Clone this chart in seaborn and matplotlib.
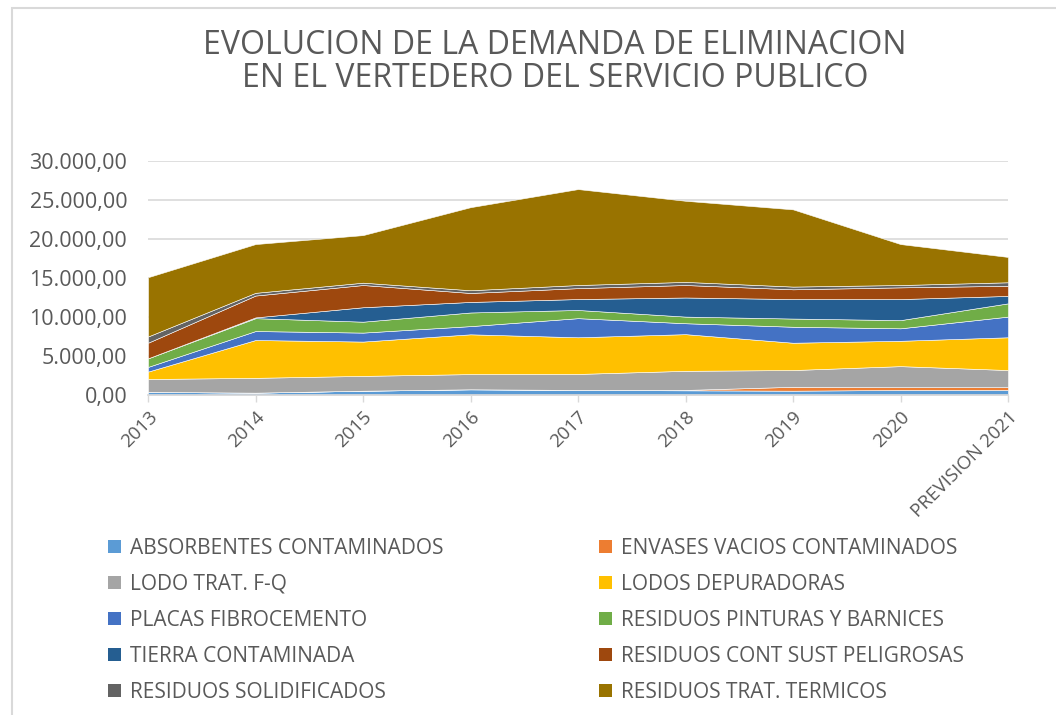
import matplotlib.pyplot as plt
import matplotlib.ticker as mticker
from matplotlib.patches import Patch, Rectangle
import seaborn as sns

# Data (tonnes per year)
years = ['2013', '2014', '2015', '2016', '2017', '2018', '2019', '2020', 'PREVISION 2021']
series = [
    'ABSORBENTES CONTAMINADOS', 'ENVASES VACIOS CONTAMINADOS', 'LODO TRAT. F-Q',
    'LODOS DEPURADORAS', 'PLACAS FIBROCEMENTO', 'RESIDUOS PINTURAS Y BARNICES',
    'TIERRA CONTAMINADA', 'RESIDUOS CONT SUST PELIGROSAS', 'RESIDUOS SOLIDIFICADOS',
    'RESIDUOS TRAT. TERMICOS',
]
absorbentes = [400, 300, 550, 730, 650, 600, 550, 650, 650]
envases = [0, 0, 0, 0, 0, 50, 500, 350, 350]
lodo_fq = [1650, 1900, 1900, 1950, 2050, 2450, 2150, 2700, 2200]
lodos_dep = [950, 4850, 4400, 5100, 4700, 4700, 3500, 3250, 4200]
placas = [600, 1150, 1150, 1050, 2450, 1400, 2050, 1600, 2650]
pinturas = [1100, 1650, 1400, 1750, 1050, 850, 1050, 1050, 1700]
tierra = [0, 100, 1850, 1350, 1400, 2450, 2500, 2700, 950]
peligrosas = [2000, 2800, 2850, 1150, 1400, 1600, 1250, 1500, 1300]
solidificados = [800, 350, 300, 350, 400, 400, 350, 300, 450]
termicos = [7600, 6250, 6100, 10650, 12300, 10400, 9900, 5250, 3250]

values = [absorbentes, envases, lodo_fq, lodos_dep, placas, pinturas,
          tierra, peligrosas, solidificados, termicos]
colors = ['#5B9BD5', '#ED7D31', '#A5A5A5', '#FFC000', '#4472C4',
          '#70AD47', '#255E91', '#9E480E', '#636363', '#997300']

sns.set_theme(style='white')
plt.rcParams['font.family'] = ['Open Sans', 'DejaVu Sans']
text_color = '#595959'

fig = plt.figure(figsize=(10.56, 7.15), dpi=100)
ax = fig.add_axes([148 / 1056, 1 - 395 / 715, 860 / 1056, 234 / 715])

x = list(range(len(years)))
ax.stackplot(x, *values, colors=colors, labels=series, linewidth=0.4,
             edgecolor='white')

ax.set_xlim(0, len(years) - 1)
ax.set_ylim(0, 30000)
ax.yaxis.set_major_locator(mticker.MultipleLocator(5000))
ax.yaxis.set_major_formatter(mticker.FuncFormatter(
    lambda v, p: f'{v:,.2f}'.replace(',', 'X').replace('.', ',').replace('X', '.')))
ax.set_xticks(x)
ax.set_xticklabels(years, rotation=45, ha='right', rotation_mode='anchor')
ax.grid(axis='y', color='#D9D9D9', linewidth=1.2)
ax.set_axisbelow(True)
for side in ['left', 'top', 'right']:
    ax.spines[side].set_visible(False)
ax.spines['bottom'].set_color('#D9D9D9')
ax.tick_params(axis='x', colors=text_color, labelsize=13.5, length=5, width=1,
               color='#D9D9D9', direction='out', bottom=True, pad=4)
ax.tick_params(axis='y', colors=text_color, labelsize=15.5, length=0, pad=15)
for t in ax.get_xticklabels():
    t.set_color(text_color)

fig.text(555 / 1056, 1 - 62 / 715,
         'EVOLUCION DE LA DEMANDA DE ELIMINACION\nEN EL VERTEDERO DEL SERVICIO PUBLICO',
         ha='center', va='center', fontsize=23, color=text_color, linespacing=1.0)

handles = [Patch(facecolor=c, edgecolor='none') for c in colors]
for col, x0 in [(0, 89 / 1056), (1, 580 / 1056)]:
    idx = list(range(col, 10, 2))
    leg = fig.legend([handles[i] for i in idx], [series[i] for i in idx],
                     loc='upper left', bbox_to_anchor=(x0, 1 - 519 / 715),
                     frameon=False, fontsize=15, labelcolor=text_color,
                     handlelength=0.62, handleheight=0.62, handletextpad=0.45,
                     labelspacing=0.72)

# chart area border
fig.add_artist(Rectangle((12 / 1056, -0.1), 1.2, 1 - 8 / 715 + 0.1,
                         transform=fig.transFigure, fill=False,
                         edgecolor='#D9D9D9', linewidth=1.5))

fig.savefig('out.png', dpi=100)
